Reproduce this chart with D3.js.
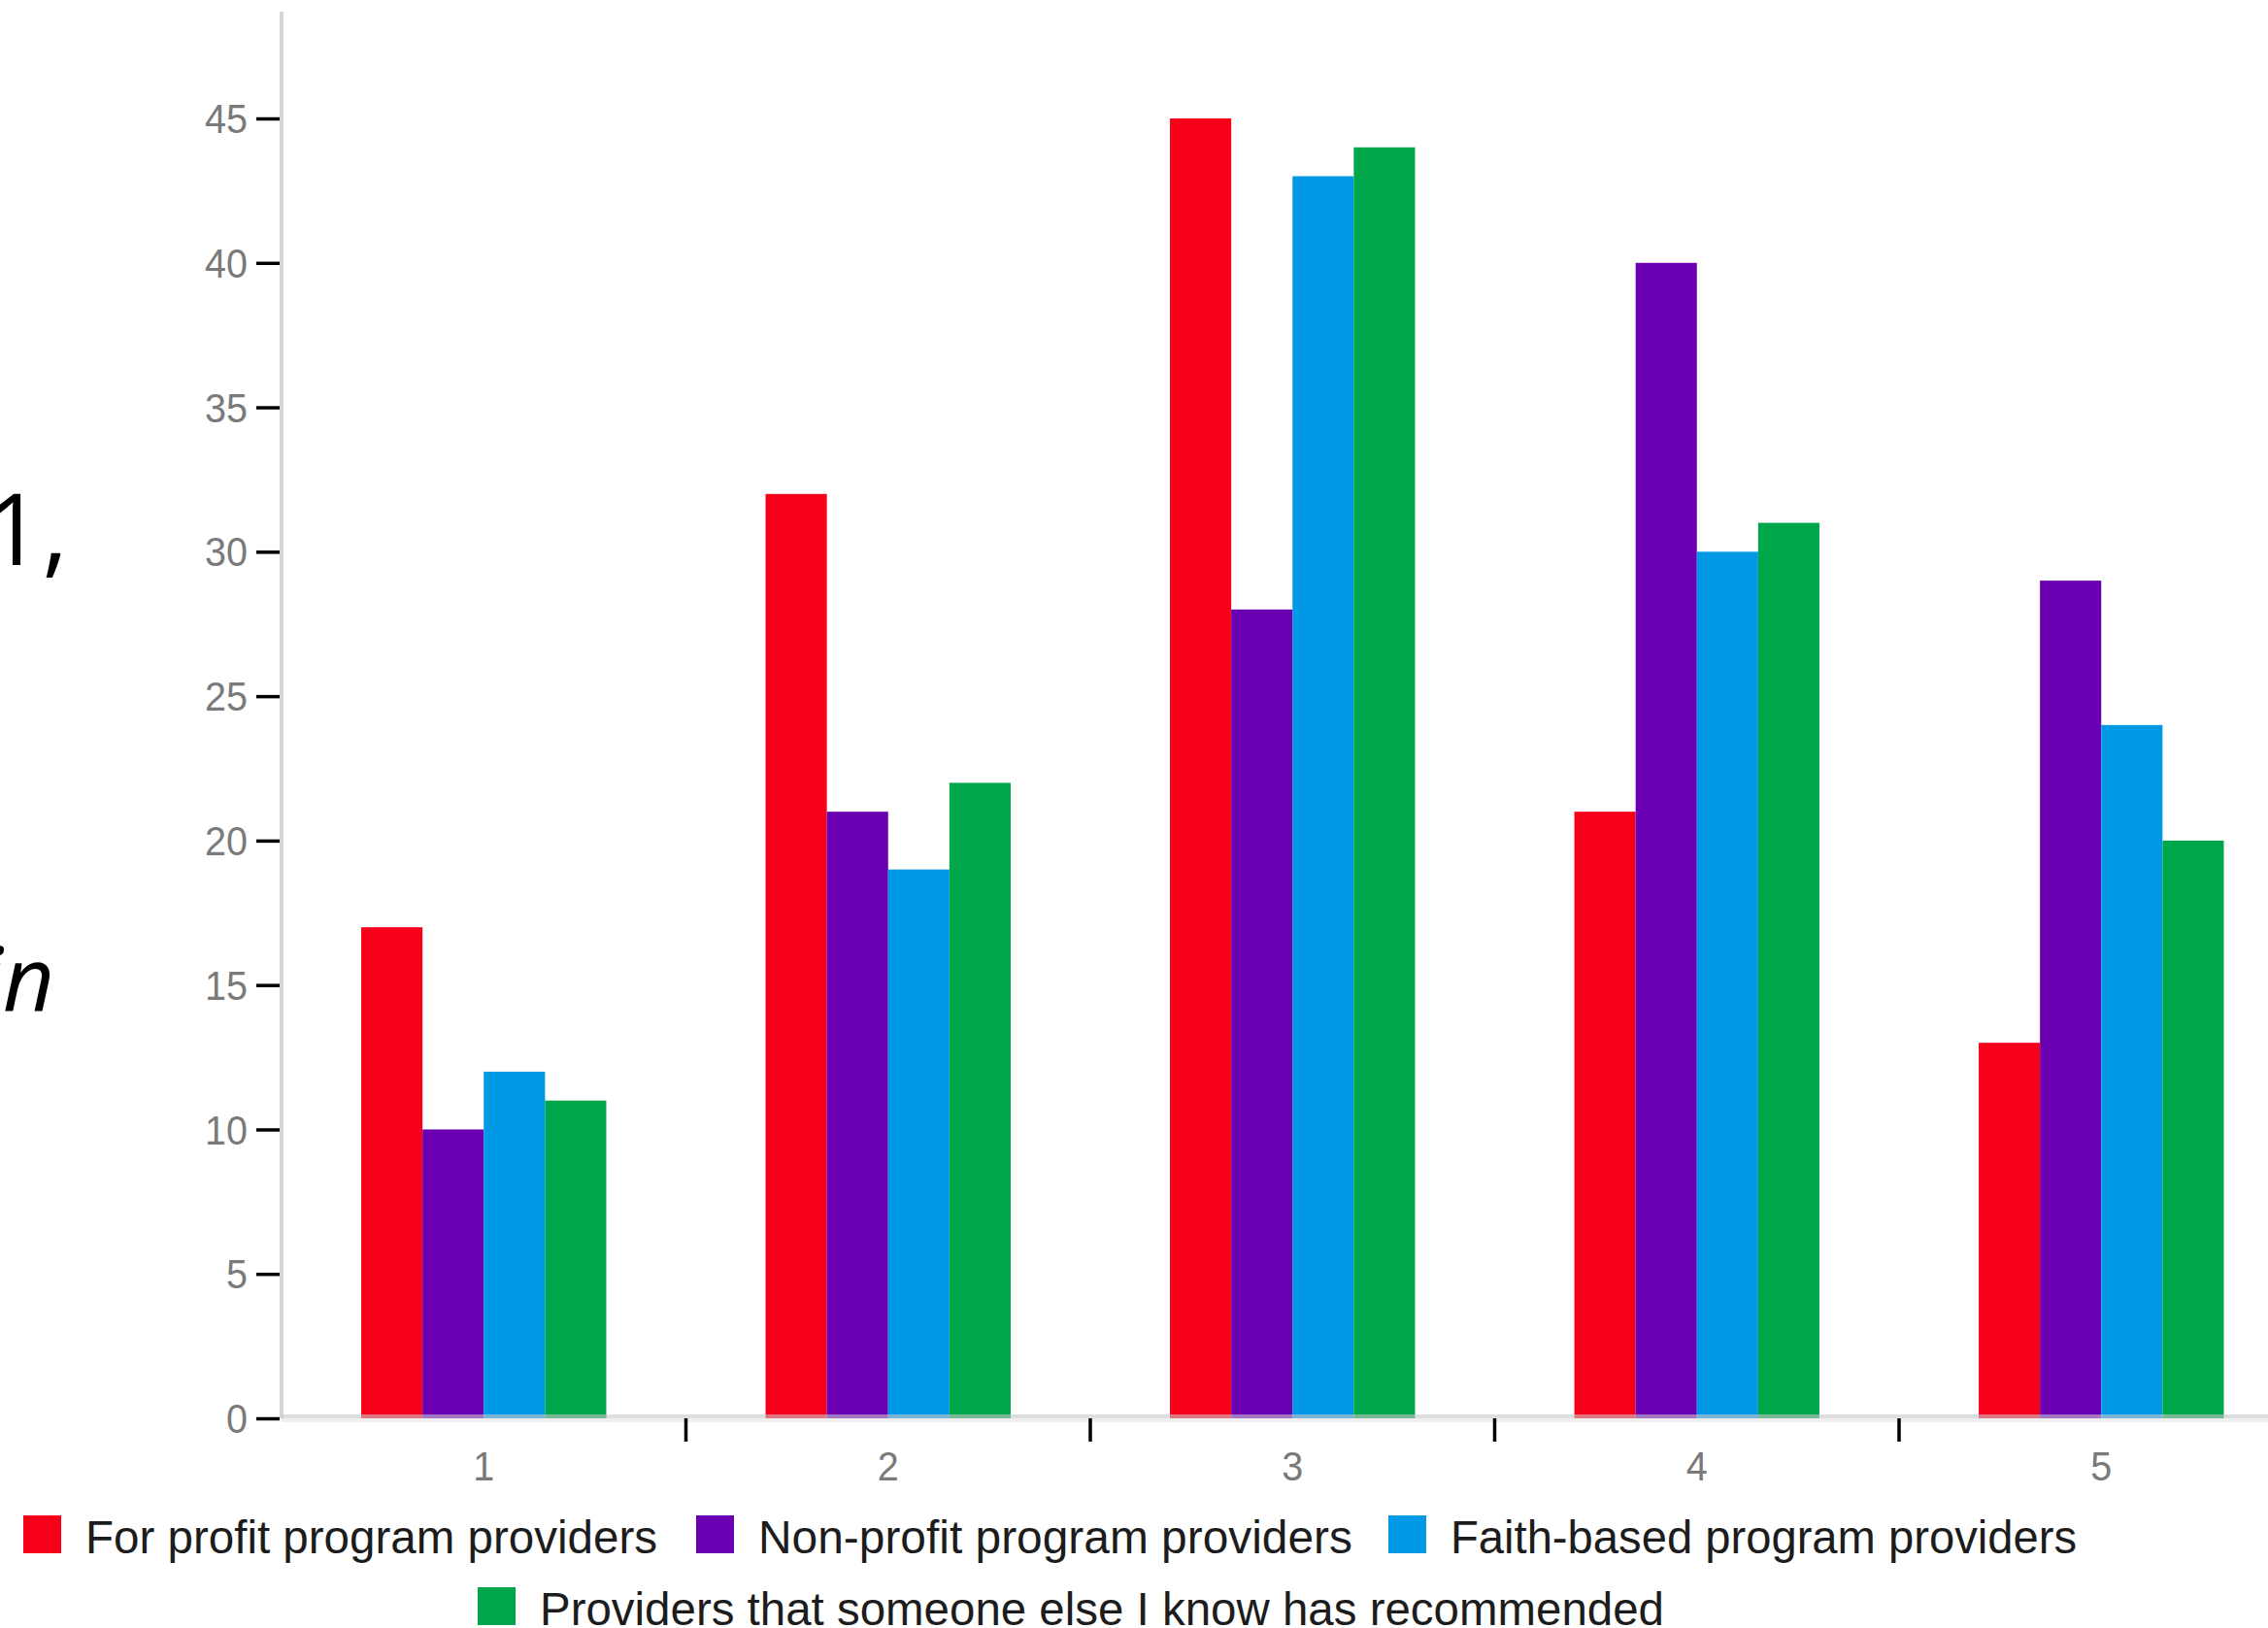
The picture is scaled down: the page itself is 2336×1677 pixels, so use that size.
<!DOCTYPE html>
<html>
<head>
<meta charset="utf-8">
<script src="https://cdn.jsdelivr.net/npm/d3@7"></script>
<style>
  html, body { margin: 0; padding: 0; background: #ffffff; }
  svg { display: block; }
</style>
</head>
<body>
<script>
// Ratings 1–5, counts per provider type
const categories = ["1", "2", "3", "4", "5"];
const seriesNames = [
  "For profit program providers",
  "Non-profit program providers",
  "Faith-based program providers",
  "Providers that someone else I know has recommended"
];
const forProfit   = [17, 32, 45, 21, 13];
const nonProfit   = [10, 21, 28, 40, 29];
const faithBased  = [12, 19, 43, 30, 24];
const recommended = [11, 22, 44, 31, 20];
const yTicks = [0, 5, 10, 15, 20, 25, 30, 35, 40, 45];
const seriesColors = ["#f7001a", "#6b00b3", "#0099e5", "#00a64a"];

const seriesValues = [forProfit, nonProfit, faithBased, recommended];

const W = 2336, H = 1677;
const svg = d3.select("body").append("svg")
  .attr("width", W).attr("height", H)
  .attr("viewBox", `0 0 ${W} ${H}`);

// Fragments of the question text on the left edge
svg.append("text")
  .attr("x", 70).attr("y", 582)
  .attr("text-anchor", "end")
  .style("font-family", "'Open Sans', sans-serif")
  .style("font-size", "102px")
  .attr("fill", "#000")
  .text("1,");
svg.append("text")
  .attr("x", 56).attr("y", 1042)
  .attr("text-anchor", "end")
  .style("font-family", "'Open Sans', sans-serif")
  .style("font-style", "italic")
  .style("font-size", "92px")
  .attr("fill", "#000")
  .text("in");

// Scales
const plotLeft = 290;
const step = 416.5;
const x0 = d3.scaleBand().domain(categories)
  .range([plotLeft, plotLeft + step * categories.length])
  .paddingInner(0).paddingOuter(0);
const x1 = d3.scaleBand().domain(d3.range(seriesNames.length))
  .range([0, x0.bandwidth()])
  .paddingInner(0).paddingOuter(1.3);
const y = d3.scaleLinear().domain([0, 45]).range([1461, 122]);

// Vertical axis line
svg.append("line")
  .attr("x1", plotLeft).attr("x2", plotLeft)
  .attr("y1", 12).attr("y2", y(0))
  .attr("stroke", "#d5d5d8").attr("stroke-width", 4);

// Bars
const groups = svg.append("g").selectAll("g")
  .data(categories)
  .join("g")
  .attr("transform", d => `translate(${x0(d)},0)`);
groups.selectAll("rect")
  .data((c, i) => seriesValues.map((vals, s) => ({ s, v: vals[i] })))
  .join("rect")
  .attr("x", d => x1(d.s))
  .attr("width", x1.bandwidth())
  .attr("y", d => y(d.v))
  .attr("height", d => y(0) - y(d.v))
  .attr("fill", d => seriesColors[d.s]);

// Baseline
svg.append("rect")
  .attr("x", plotLeft).attr("y", y(0) - 4)
  .attr("width", W - plotLeft).attr("height", 4)
  .attr("fill", "#c8c8cc").attr("fill-opacity", 0.6);
svg.append("rect")
  .attr("x", plotLeft).attr("y", y(0))
  .attr("width", W - plotLeft).attr("height", 4)
  .attr("fill", "#efefef");

// Y axis ticks and labels
const yAxis = svg.append("g")
  .attr("transform", `translate(${plotLeft - 2},0)`)
  .call(d3.axisLeft(y).tickValues(yTicks).tickSize(24).tickPadding(12));
yAxis.select(".domain").remove();
yAxis.selectAll(".tick line").attr("stroke", "#000").attr("stroke-width", 3.5);
yAxis.selectAll(".tick text")
  .attr("fill", "#7a7a7a")
  .style("font-family", "'Liberation Sans', Arial, sans-serif")
  .style("font-size", "43px")
  .attr("dy", "0.34em")
  .attr("transform", "scale(0.92,1)");

// X axis labels
const xAxis = svg.append("g")
  .attr("transform", `translate(0,${y(0)})`)
  .call(d3.axisBottom(x0).tickSize(0).tickPadding(33));
xAxis.select(".domain").remove();
xAxis.selectAll(".tick text")
  .attr("fill", "#7a7a7a")
  .style("font-family", "'Liberation Sans', Arial, sans-serif")
  .style("font-size", "43px")
  .attr("transform", "scale(0.92,1)");
xAxis.selectAll(".tick").each(function () {
  const t = d3.select(this).attr("transform");
  const m = /translate\(([-\d.]+)/.exec(t);
  const cx = +m[1];
  d3.select(this).attr("transform", null)
    .select("text").attr("x", cx / 0.92);
});

// Category boundary ticks on the horizontal axis
svg.append("g").selectAll("line")
  .data(categories)
  .join("line")
  .attr("x1", d => x0(d) + x0.bandwidth())
  .attr("x2", d => x0(d) + x0.bandwidth())
  .attr("y1", y(0)).attr("y2", y(0) + 24)
  .attr("stroke", "#000").attr("stroke-width", 3.5);

// Legend
const legendItems = [
  { s: 0, x: 24,  y: 1561, len: 589 },
  { s: 1, x: 717, y: 1561, len: 612 },
  { s: 2, x: 1430, y: 1561, len: 645 },
  { s: 3, x: 492, y: 1635, len: 1158 }
];
const legend = svg.append("g").selectAll("g")
  .data(legendItems)
  .join("g")
  .attr("transform", d => `translate(${d.x},${d.y})`);
legend.append("rect")
  .attr("width", 39).attr("height", 39)
  .attr("fill", d => seriesColors[d.s]);
legend.append("text")
  .attr("x", 64).attr("y", 39)
  .attr("fill", "#1c1c1c")
  .style("font-family", "'Liberation Sans', Arial, sans-serif")
  .style("font-size", "48px")
  .attr("textLength", d => d.len)
  .attr("lengthAdjust", "spacingAndGlyphs")
  .text(d => seriesNames[d.s]);
</script>
</body>
</html>
